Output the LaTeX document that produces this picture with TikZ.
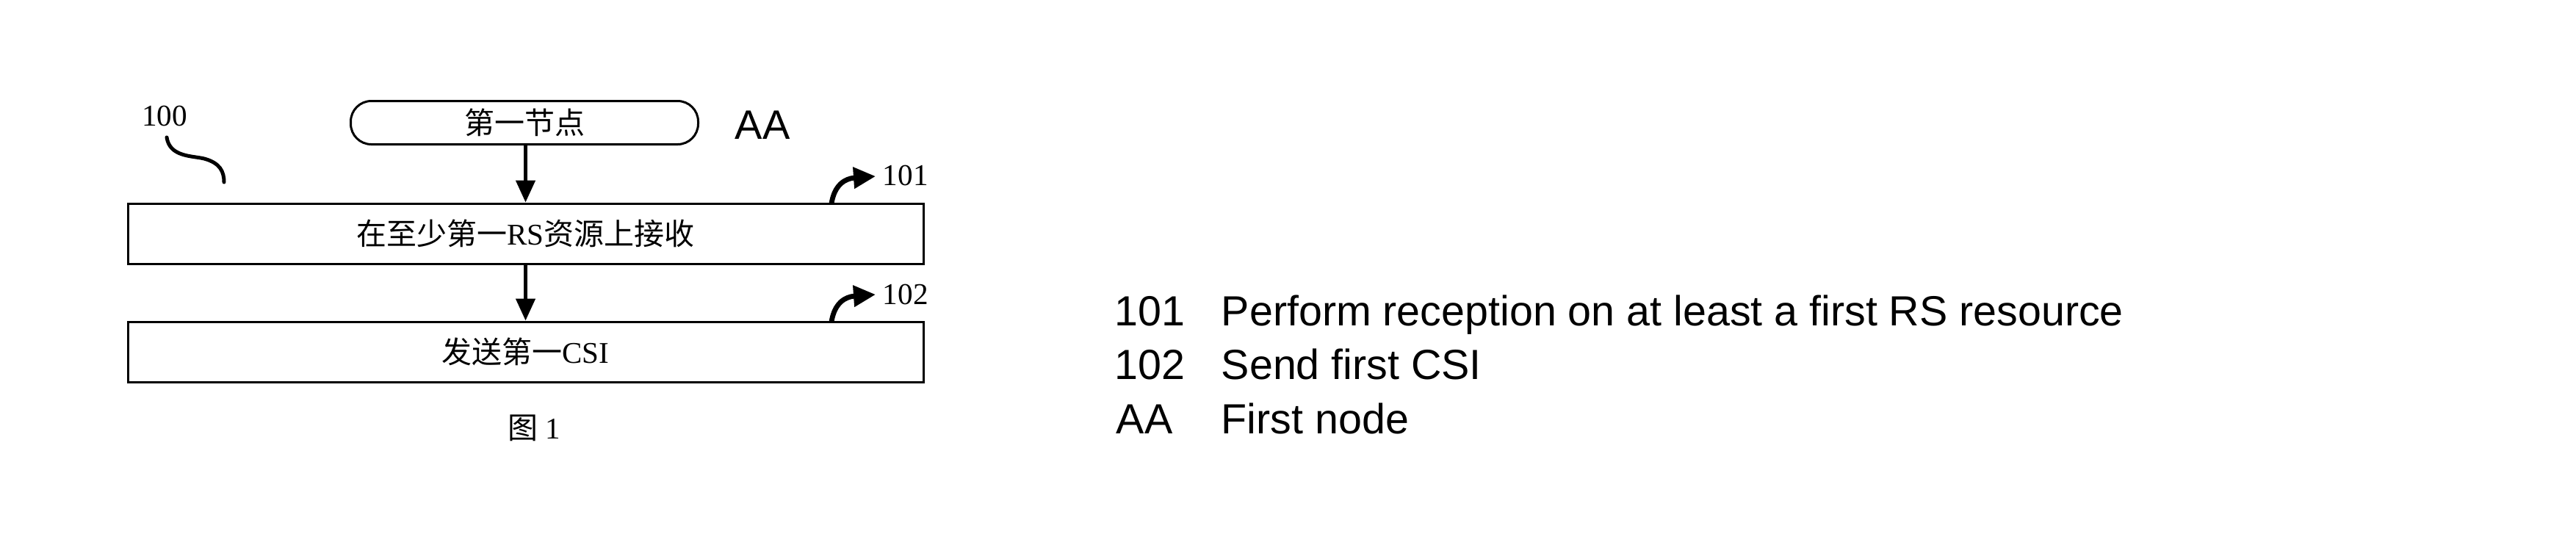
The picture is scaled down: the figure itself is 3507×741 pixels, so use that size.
\documentclass[tikz,border=0pt]{standalone}
\usepackage{fontspec}
\setmainfont{Liberation Serif}
\newfontfamily\cjk{Noto Sans CJK SC}
\newfontfamily\arialf{Liberation Sans}
\usetikzlibrary{arrows.meta}
\begin{document}
\begin{tikzpicture}[x=0.25pt,y=-0.25pt,
  stepbox/.style={draw, line width=0.75pt, minimum width=270.75pt, minimum height=20.5pt, inner sep=0pt,
    font=\fontsize{10.25pt}{12pt}\selectfont},
  startbox/.style={draw, line width=0.75pt, rounded corners=7pt, minimum width=118.25pt, minimum height=14.75pt, inner sep=0pt,
    font=\fontsize{10.25pt}{12pt}\selectfont},
  flow/.style={line width=1.2pt, -{Triangle[length=7.5pt,width=6.5pt]}},
  tagarrow/.style={line width=1.7pt, -{Triangle[length=7.5pt,width=7pt]}},
  tagnum/.style={inner sep=0pt, font=\fontsize{10.3pt}{12pt}\selectfont},
  legend/.style={inner sep=0pt, anchor=base west, font=\arialf\fontsize{14.35pt}{17pt}\selectfont},
  squig/.style={line width=1.25pt, line cap=round}
]
\useasboundingbox (0,0) rectangle (3507,741);
\fill[white] (0,0) rectangle (3507,741);

% flow chart
\node[startbox] (start) at (714,167) {{\cjk 第一节点}};
\node[inner sep=0pt, anchor=west, font=\arialf\fontsize{14pt}{17pt}\selectfont] (aa) at (1000,170) {AA};
\node[stepbox] (box101) at (715.5,318) {{\cjk 在至少第一}RS{\cjk 资源上接收}};
\node[stepbox] (box102) at (715.5,479) {{\cjk 发送第一}CSI};
\node[inner sep=0pt, font=\fontsize{10.25pt}{12pt}\selectfont] (fig) at (727,583) {{\cjk 图}~1};

\draw[flow] (box101.north |- start.south) -- (box101.north);
\draw[flow] (box101.south) -- (box102.north);

% reference numerals
\node[tagnum] (n100) at (224,158) {100};
\coordinate (s100a) at (227,187);
\coordinate (s100b) at (305,248);
\draw[squig] (s100a) .. controls (231,214) and (262,212) .. (278,216) .. controls (300,222) and (305,234) .. (s100b);

\node[tagnum, anchor=west] (n101) at (1201,239) {101};
\coordinate (t101a) at (1132,277);
\coordinate (t101b) at (1192,240);
\draw[tagarrow] (t101a) .. controls (1136,252) and (1150,243) .. (t101b);

\node[tagnum, anchor=west] (n102) at (1201,401) {102};
\coordinate (t102a) at (1132,438);
\coordinate (t102b) at (1192,401);
\draw[tagarrow] (t102a) .. controls (1136,413) and (1150,404) .. (t102b);

% legend
\node[legend] (l1n) at (1517,443) {101};
\node[legend] (l1t) at (1662,443) {Perform reception on at least a first RS resource};
\node[legend] (l2n) at (1517,516) {102};
\node[legend] (l2t) at (1662,516) {Send first CSI};
\node[legend] (l3n) at (1519,590) {AA};
\node[legend] (l3t) at (1662,590) {First node};
\end{tikzpicture}
\end{document}
